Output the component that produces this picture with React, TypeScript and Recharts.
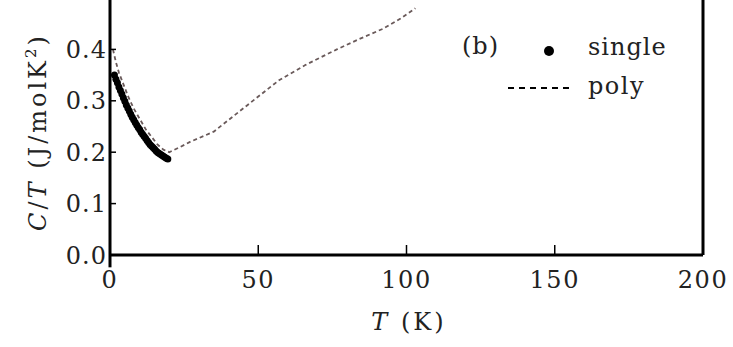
import { ComposedChart, Scatter, Line, XAxis, YAxis, ReferenceLine } from 'recharts';

// single crystal (thick dots), T in K, C/T in J/molK^2
const singleT = [1.5, 2, 2.5, 3, 3.5, 4, 4.5, 5, 5.5, 6, 6.5, 7, 7.5, 8, 8.5, 9, 9.5, 10, 10.5, 11, 11.5, 12, 12.5, 13, 13.5, 14, 14.5, 15, 15.5, 16, 16.5, 17, 17.5, 18, 18.5, 19, 19.5];
const singleC = [0.35, 0.342, 0.335, 0.327, 0.32, 0.313, 0.306, 0.299, 0.292, 0.286, 0.28, 0.274, 0.268, 0.263, 0.258, 0.253, 0.248, 0.244, 0.239, 0.235, 0.231, 0.227, 0.223, 0.219, 0.215, 0.212, 0.209, 0.206, 0.203, 0.2, 0.198, 0.196, 0.194, 0.192, 0.19, 0.188, 0.187];

// polycrystal (dashed)
const polyT = [1, 2, 3, 4, 6, 8, 10, 12, 14, 16, 18, 20, 23.6, 27, 35, 46, 57, 66, 76.5, 84, 92, 98, 103];
const polyC = [0.4, 0.375, 0.355, 0.34, 0.31, 0.285, 0.265, 0.245, 0.23, 0.215, 0.205, 0.2, 0.21, 0.22, 0.24, 0.29, 0.34, 0.37, 0.4, 0.42, 0.44, 0.46, 0.48];

const xTicks = [0, 50, 100, 150, 200];
const yTicks = [0, 0.1, 0.2, 0.3, 0.4];
const yRightTicks = [0.1, 0.2, 0.3, 0.4];

const singleData = singleT.map((t, i) => ({ T: t, c: singleC[i] }));
const polyData = polyT.map((t, i) => ({ T: t, c: polyC[i] }));

const FONT = "'DejaVu Serif', serif";
const INK = '#222';
const tickStyle = { fontSize: 24, fill: INK, letterSpacing: 1, style: { fontFamily: FONT } };

export default function App() {
  return (
    <div style={{ position: 'absolute', left: 0, top: 0, width: 733, height: 347, background: '#fff' }}>
      <div style={{ position: 'absolute', left: 0, top: -3 }}>
        <ComposedChart width={733} height={350} margin={{ top: 0, right: 0, bottom: 0, left: 0 }}>
          <XAxis
            dataKey="T"
            type="number"
            domain={[0, 200]}
            ticks={xTicks}
            height={92}
            axisLine={{ stroke: '#000', strokeWidth: 3 }}
            tickLine={{ stroke: '#000', strokeWidth: 1.5 }}
            tickSize={-10}
            tickMargin={26}
            tick={{ ...tickStyle, letterSpacing: 1.5 }}
            allowDataOverflow
          />
          <XAxis
            xAxisId="top"
            orientation="top"
            dataKey="T"
            type="number"
            domain={[0, 200]}
            ticks={[50, 100, 150]}
            height={1}
            axisLine={false}
            tickLine={{ stroke: '#000', strokeWidth: 1.5 }}
            tickSize={-10}
            tick={false}
          />
          <YAxis
            yAxisId="left"
            type="number"
            domain={[0, 0.5]}
            ticks={yTicks}
            width={110}
            axisLine={{ stroke: '#000', strokeWidth: 3 }}
            tickLine={{ stroke: '#000', strokeWidth: 1.5 }}
            tickSize={-6}
            tickMargin={9}
            tick={tickStyle}
            tickFormatter={(v: number) => v.toFixed(1)}
            allowDataOverflow
          />
          <YAxis
            yAxisId="right"
            orientation="right"
            type="number"
            domain={[0, 0.5]}
            ticks={yRightTicks}
            width={30}
            axisLine={{ stroke: '#000', strokeWidth: 3 }}
            tickLine={{ stroke: '#000', strokeWidth: 1.5 }}
            tickSize={-7}
            tick={false}
          />
          <ReferenceLine
            yAxisId="left"
            segment={[{ x: 0, y: 0 }, { x: 0, y: -0.024 }]}
            stroke="#000"
            strokeWidth={3}
            ifOverflow="visible"
          />
          <Line
            yAxisId="left"
            data={polyData}
            dataKey="c"
            type="linear"
            stroke="#6a5a5a"
            strokeWidth={1.8}
            strokeDasharray="4 3"
            dot={false}
            isAnimationActive={false}
          />
          <Scatter
            yAxisId="left"
            data={singleData}
            dataKey="c"
            fill="#000"
            shape={(p: any) => <circle cx={p.cx} cy={p.cy} r={3.5} fill="#000" />}
            isAnimationActive={false}
          />
        </ComposedChart>
      </div>

      <svg width={733} height={347} style={{ position: 'absolute', left: 0, top: 0, pointerEvents: 'none', fontFamily: FONT }}>
        <text
          transform="translate(46,132) rotate(-90)"
          textAnchor="middle"
          fontSize={24}
          fill={INK}
          letterSpacing={3}
        >
          <tspan fontStyle="italic">C</tspan>/<tspan fontStyle="italic">T</tspan> (J/molK
          <tspan fontSize={15} dy={-10}>2</tspan>
          <tspan dy={10}>)</tspan>
        </text>
        <text x={409} y={330} textAnchor="middle" fontSize={24} fill={INK} letterSpacing={3}>
          <tspan fontStyle="italic">T</tspan> (K)
        </text>
        <text x={462} y={54} fontSize={24} fill={INK} letterSpacing={1}>(b)</text>
        <circle cx={549} cy={51} r={5} fill="#000" />
        <text x={588} y={55} fontSize={24} fill={INK} letterSpacing={1}>single</text>
        <line x1={508} y1={88} x2={573} y2={88} stroke="#000" strokeWidth={2} strokeDasharray="6 5" />
        <text x={588} y={94} fontSize={24} fill={INK} letterSpacing={1.5}>poly</text>
      </svg>
    </div>
  );
}
